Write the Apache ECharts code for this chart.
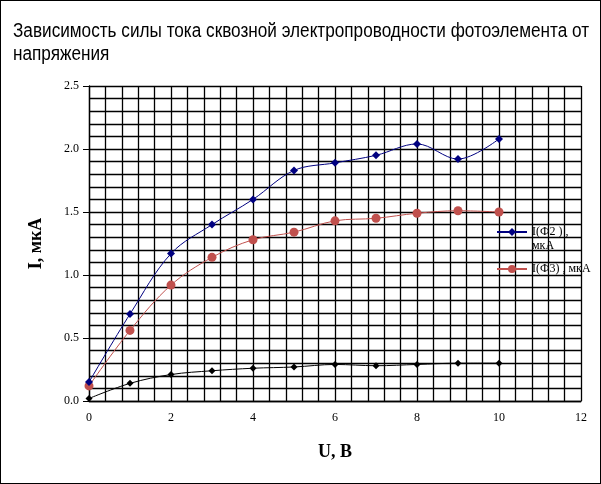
<!DOCTYPE html>
<html>
<head>
<meta charset="utf-8">
<script src="https://cdn.jsdelivr.net/npm/echarts@6/dist/echarts.min.js"></script>
<style>
  html, body { margin: 0; padding: 0; background: #fff; }
  #container { width: 601px; height: 484px; box-sizing: border-box; border: 1px solid #000; }
</style>
</head>
<body>
<div id="container"></div>
<script>
var dom = document.getElementById("container");
var myChart = echarts.init(dom, null, { renderer: "canvas" });
var option;

// U, B
const voltage = [0, 1, 2, 3, 4, 5, 6, 7, 8, 9, 10];
// I(Ф2), мкА
const currentF2 = [0.15, 0.69, 1.17, 1.40, 1.60, 1.83, 1.89, 1.95, 2.04, 1.92, 2.08];
// I(Ф3), мкА
const currentF3 = [0.12, 0.56, 0.92, 1.14, 1.28, 1.34, 1.43, 1.45, 1.49, 1.51, 1.50];
// third (unnamed) curve
const currentBlack = [0.02, 0.14, 0.21, 0.24, 0.26, 0.27, 0.29, 0.28, 0.29, 0.30, 0.30];

const titleLines = [
  "Зависимость силы тока сквозной электропроводности фотоэлемента от",
  "напряжения",
];
const nameF2 = "I(Ф2 ) , мкА";
const nameF3 = "I(Ф3) , мкА";

function pairs(ys) {
  return voltage.map(function (x, i) {
    return [x, ys[i]];
  });
}

const serif = "Liberation Serif, Times New Roman, serif";
const titleFont = "19.5px Liberation Sans, Arial, sans-serif";

// the original title is set in a narrow face: squeeze a regular sans to the same width
const ctx = document.createElement("canvas").getContext("2d");
ctx.font = titleFont;
const titleScale = 576 / ctx.measureText(titleLines[0]).width;

option = {
  animation: false,
  graphic: {
    elements: [
      {
        type: "text",
        x: 12,
        y: 19,
        scaleX: titleScale,
        style: {
          text: titleLines.join("\n"),
          font: titleFont,
          lineHeight: 23,
          fill: "#000",
          verticalAlign: "top",
        },
      },
    ],
  },
  grid: {
    left: 88,
    top: 85,
    right: 19,
    bottom: 82,
  },
  legend: {
    orient: "vertical",
    left: 490,
    top: 206,
    itemWidth: 30,
    itemHeight: 10,
    itemGap: 11,
    data: [nameF2, nameF3],
    formatter: function (name) {
      if (name === nameF2) {
        // wrapped like the original, with the icon level with the first line
        return "{e| }\n{t|I(Ф2 ) ,}\n{t|мкА}";
      }
      return "{t|" + name + "}";
    },
    textStyle: {
      fontFamily: serif,
      fontSize: 12,
      color: "#000",
      rich: {
        e: { fontSize: 12, lineHeight: 14, fontFamily: serif },
        t: { fontSize: 12, lineHeight: 14, fontFamily: serif, color: "#000" },
      },
    },
  },
  xAxis: {
    type: "value",
    min: 0,
    max: 12,
    interval: 2,
    name: "U, B",
    nameLocation: "middle",
    nameGap: 42,
    nameTextStyle: { fontFamily: serif, fontSize: 18, fontWeight: "bold", color: "#000" },
    axisLine: { show: true, lineStyle: { color: "#000", width: 1.3 } },
    axisTick: { show: false },
    axisLabel: { fontFamily: serif, fontSize: 12, color: "#000", margin: 11 },
    splitLine: { show: true, lineStyle: { color: "#000", width: 1.3 } },
    minorTick: { show: false, splitNumber: 5 },
    minorSplitLine: { show: true, lineStyle: { color: "#000", width: 1.3 } },
  },
  yAxis: {
    type: "value",
    min: 0,
    max: 2.5,
    interval: 0.5,
    name: "I, мкА",
    nameLocation: "middle",
    nameGap: 44,
    nameTextStyle: { fontFamily: serif, fontSize: 18, fontWeight: "bold", color: "#000" },
    axisLine: { show: true, lineStyle: { color: "#000", width: 1.3 } },
    axisTick: { show: true, length: 6, lineStyle: { color: "#000" } },
    axisLabel: {
      fontFamily: serif,
      fontSize: 12,
      color: "#000",
      margin: 10,
      formatter: function (v) {
        return v.toFixed(1);
      },
    },
    splitLine: { show: true, lineStyle: { color: "#000", width: 1.3 } },
    minorTick: { show: false, splitNumber: 5 },
    minorSplitLine: { show: true, lineStyle: { color: "#000", width: 1.3 } },
  },
  series: [
    {
      name: nameF2,
      type: "line",
      smooth: 0.35,
      data: pairs(currentF2),
      symbol: "diamond",
      symbolSize: 8,
      itemStyle: { color: "#000080" },
      lineStyle: { color: "#000080", width: 1 },
      z: 4,
    },
    {
      name: nameF3,
      type: "line",
      smooth: 0.35,
      data: pairs(currentF3),
      symbol: "circle",
      symbolSize: 9,
      itemStyle: { color: "#C0504D" },
      lineStyle: { color: "#C0504D", width: 1 },
      z: 3,
    },
    {
      name: "black",
      type: "line",
      smooth: 0.35,
      data: pairs(currentBlack),
      symbol: "diamond",
      symbolSize: 7,
      itemStyle: { color: "#000" },
      lineStyle: { color: "#000", width: 1 },
      z: 2,
    },
  ],
};

myChart.setOption(option);
window.addEventListener("resize", myChart.resize);
</script>
</body>
</html>
